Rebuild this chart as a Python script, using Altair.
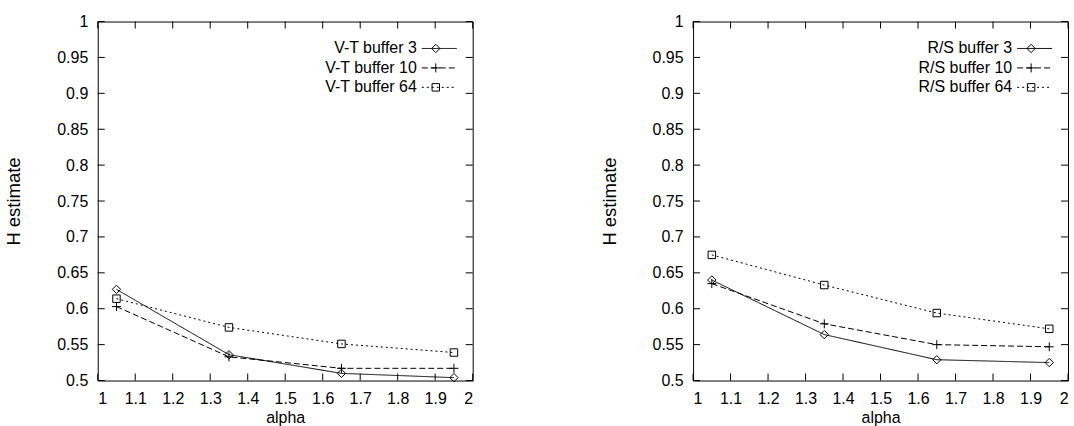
import altair as alt
import pandas as pd

# ---- data ----
alpha = [1.05, 1.35, 1.65, 1.95]

vt_names = ["V-T buffer 3", "V-T buffer 10", "V-T buffer 64"]
vt_b3 = [0.627, 0.536, 0.510, 0.504]
vt_b10 = [0.603, 0.533, 0.517, 0.517]
vt_b64 = [0.614, 0.574, 0.551, 0.539]

rs_names = ["R/S buffer 3", "R/S buffer 10", "R/S buffer 64"]
rs_b3 = [0.640, 0.564, 0.529, 0.525]
rs_b10 = [0.635, 0.579, 0.550, 0.547]
rs_b64 = [0.675, 0.633, 0.594, 0.572]

x_ticks = [1.0, 1.1, 1.2, 1.3, 1.4, 1.5, 1.6, 1.7, 1.8, 1.9, 2.0]
y_ticks = [0.5, 0.55, 0.6, 0.65, 0.7, 0.75, 0.8, 0.85, 0.9, 0.95, 1.0]

x_title = "alpha"
y_title = "H estimate"

# ---- styles ----
FONT = "Liberation Sans"
FS = 16
W, H = 376, 360
TICK = 7
DASHES = [[1, 0], [6, 3], [2, 3]]
SHAPES = ["M0,-1L1,0L0,1L-1,0Z", "M-1,0L1,0M0,-1L0,1", "M-1,-1L1,-1L1,1L-1,1Z"]
SIZES = [70, 81, 56]
LEG_TX, LEG_X1, LEG_X2, LEG_XM = 320, 325, 360, 339
LEG_Y0, LEG_DY = 27, 19.5


def panel(names, series):
    xs = alt.Scale(domain=[1, 2], nice=False, zero=False)
    ys = alt.Scale(domain=[0.5, 1], nice=False, zero=False)
    ax_x = alt.Axis(values=x_ticks, format="~g", title=x_title)
    ax_y = alt.Axis(values=y_ticks, format="~g", title=y_title)
    layers = []
    for i, (name, vals) in enumerate(zip(names, series)):
        df = pd.DataFrame({"alpha": alpha, "H": vals})
        xe = alt.X("alpha:Q", scale=xs, axis=ax_x)
        ye = alt.Y("H:Q", scale=ys, axis=ax_y)
        layers.append(
            alt.Chart(df).mark_line(color="black", strokeWidth=1,
                                    strokeDash=DASHES[i]).encode(x=xe, y=ye)
        )
        layers.append(
            alt.Chart(df).mark_point(shape=SHAPES[i], size=SIZES[i], filled=False,
                                     color="black", strokeWidth=1, opacity=1
                                     ).encode(x=xe, y=ye)
        )
    # inward ticks on all four sides
    tx = pd.DataFrame({"t": x_ticks})
    ty = pd.DataFrame({"t": y_ticks})
    xt = alt.X("t:Q", scale=xs, axis=ax_x)
    yt = alt.Y("t:Q", scale=ys, axis=ax_y)
    layers.append(alt.Chart(tx).mark_rule(color="black", strokeWidth=1).encode(
        x=xt, y=alt.value(H), y2=alt.value(H - TICK)))
    layers.append(alt.Chart(tx).mark_rule(color="black", strokeWidth=1).encode(
        x=xt, y=alt.value(0), y2=alt.value(TICK)))
    layers.append(alt.Chart(ty).mark_rule(color="black", strokeWidth=1).encode(
        y=yt, x=alt.value(0), x2=alt.value(TICK)))
    layers.append(alt.Chart(ty).mark_rule(color="black", strokeWidth=1).encode(
        y=yt, x=alt.value(W), x2=alt.value(W - TICK)))
    # gnuplot-style key
    one = pd.DataFrame({"k": [0]})
    for i, name in enumerate(names):
        yy = LEG_Y0 + i * LEG_DY
        layers.append(alt.Chart(one).mark_text(
            text=name, align="right", baseline="middle", font=FONT, fontSize=FS,
            color="black").encode(x=alt.value(LEG_TX), y=alt.value(yy)))
        layers.append(alt.Chart(one).mark_rule(
            color="black", strokeWidth=1, strokeDash=DASHES[i]).encode(
            x=alt.value(LEG_X1), x2=alt.value(LEG_X2), y=alt.value(yy)))
        layers.append(alt.Chart(one).mark_point(
            shape=SHAPES[i], size=SIZES[i], filled=False, color="black",
            strokeWidth=1, opacity=1).encode(x=alt.value(LEG_XM), y=alt.value(yy)))
    return alt.layer(*layers).properties(width=W, height=H)


left = panel(vt_names, [vt_b3, vt_b10, vt_b64])
right = panel(rs_names, [rs_b3, rs_b10, rs_b64])

chart = alt.hconcat(left, right, spacing=126).configure_view(
    stroke="black", strokeWidth=1
).configure_axis(
    labelFont=FONT, titleFont=FONT, labelFontSize=FS, titleFontSize=FS,
    titleFontWeight="normal", labelColor="black", titleColor="black",
    tickSize=0, domain=False, grid=False
).configure_axisY(
    labelPadding=10, titlePadding=33, titleFontSize=18.5
).configure_axisX(
    labelPadding=10, titlePadding=3
).properties(
    padding={"left": 4, "top": 12, "right": 5, "bottom": 0}
)

chart.save("out.html", embed_options={"renderer": "svg", "actions": False})
